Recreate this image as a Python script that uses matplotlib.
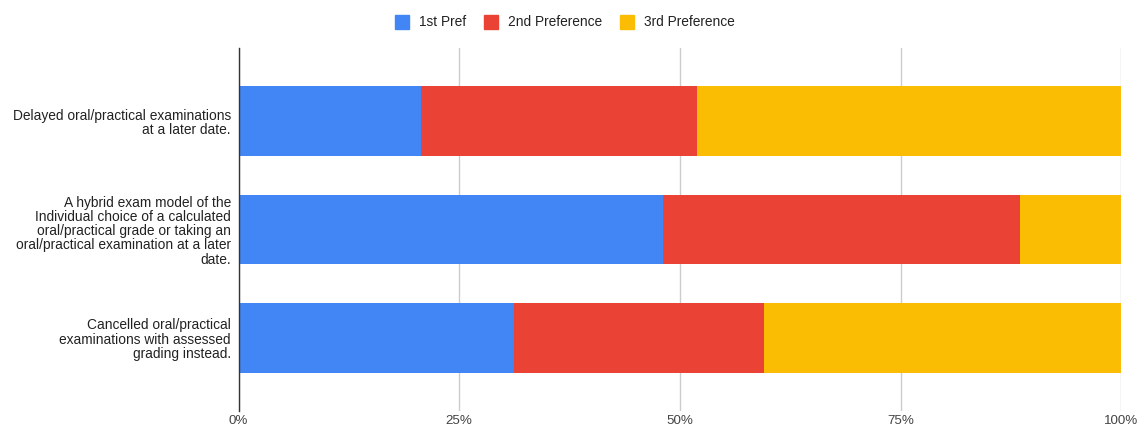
import matplotlib
matplotlib.use("Agg")
import matplotlib.pyplot as plt
from matplotlib.lines import Line2D
import numpy as np

categories = [
    "Delayed oral/practical examinations\nat a later date.",
    "A hybrid exam model of the\nIndividual choice of a calculated\noral/practical grade or taking an\noral/practical examination at a later\ndate.",
    "Cancelled oral/practical\nexaminations with assessed\ngrading instead.",
]
series_names = ["1st Pref", "2nd Preference", "3rd Preference"]
first_pref = [20.7, 48.1, 31.2]
second_pref = [31.2, 40.4, 28.3]
third_pref = [48.1, 11.5, 40.5]
tick_values = [0, 25, 50, 75, 100]
tick_labels = ["0%", "25%", "50%", "75%", "100%"]

colors = ["#4285F4", "#EA4335", "#FBBC04"]

plt.rcParams['font.family'] = ['Liberation Sans', 'DejaVu Sans']

FS = 9.9

fig = plt.figure(figsize=(11.4, 4.29), dpi=100)
ax = fig.add_axes([238.6/1140, 1-411/429, (1121.4-238.6)/1140, (411-48)/429])

y = np.arange(len(categories))
left = np.zeros(len(categories))
for vals, c, name in zip([first_pref, second_pref, third_pref], colors, series_names):
    ax.barh(y, vals, left=left, height=0.645, color=c, edgecolor='none', label=name, zorder=3)
    left = left + np.array(vals)

ax.set_xlim(0, 100)
ax.set_ylim(2.673, -0.673)
ax.set_yticks(y)
ax.set_yticklabels(categories, fontsize=FS, color='#222222', linespacing=1.03, ha='right')
ax.set_xticks(tick_values)
ax.set_xticklabels(tick_labels, fontsize=9.6, color='#444444')
ax.tick_params(axis='both', length=0)
ax.tick_params(axis='y', pad=5.5)
ax.tick_params(axis='x', pad=3.0)
for s in ['top', 'right', 'bottom']:
    ax.spines[s].set_visible(False)
ax.spines['left'].set_color('#333333')
ax.spines['left'].set_linewidth(1.0)
ax.spines['left'].set_zorder(4)
ax.grid(axis='x', color='#cccccc', linewidth=1.0, zorder=0)
ax.set_axisbelow(True)

handles = [Line2D([0], [0], marker='s', linestyle='none', markersize=10,
                  markerfacecolor=c, markeredgecolor=c) for c in colors]
fig.legend(handles, series_names, loc='center', bbox_to_anchor=(0.4956, 1-22.4/429),
           ncol=3, frameon=False, fontsize=FS, handlelength=1.0, handletextpad=0.72,
           columnspacing=1.33, labelcolor='#222222', borderpad=0, borderaxespad=0)

fig.savefig("out.png", dpi=100)
